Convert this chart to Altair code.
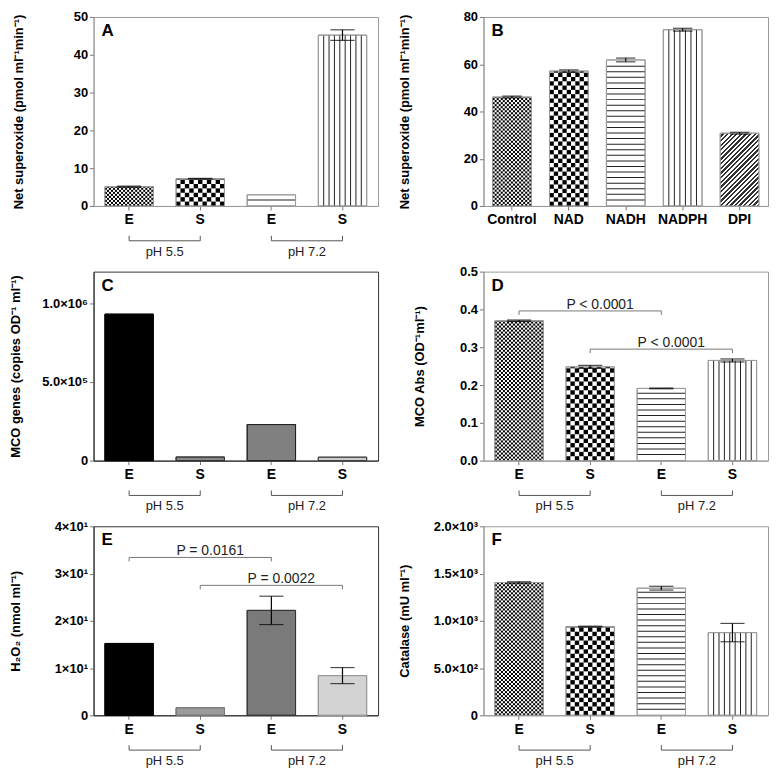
import math
import altair as alt
import pandas as pd

FONT = "Liberation Sans"
W, H = 286, 190
PI, PO = 0.32, 0.16

# ---------------- data ----------------
ph_cats = ["5.5E", "5.5S", "7.2E", "7.2S"]
ph_groups = ["pH 5.5", "pH 7.2"]

A_values = [5.1, 7.2, 2.95, 45.2]
A_errors = [0.15, 0.1, 0.0, 1.4]
A_ticks = [0, 10, 20, 30, 40, 50]
A_ticklabels = ["0", "10", "20", "30", "40", "50"]

B_cats = ["Control", "NAD", "NADH", "NADPH", "DPI"]
B_values = [46.1, 57.1, 61.8, 74.6, 30.8]
B_errors = [0.4, 0.5, 0.8, 0.6, 0.4]
B_ticks = [0, 20, 40, 60, 80]
B_ticklabels = ["0", "20", "40", "60", "80"]

C_values = [930000, 23000, 229000, 22000]
C_errors = [0, 0, 0, 0]
C_ticks = [0, 500000, 1000000]
C_ticklabels = ["0", "5.0×10⁵", "1.0×10⁶"]

D_values = [0.370, 0.248, 0.191, 0.265]
D_errors = [0.002, 0.004, 0.001, 0.004]
D_ticks = [0.0, 0.1, 0.2, 0.3, 0.4, 0.5]
D_ticklabels = ["0.0", "0.1", "0.2", "0.3", "0.4", "0.5"]
D_sig_from = ["5.5E", "5.5S"]
D_sig_to = ["7.2E", "7.2S"]
D_sig_y = [0.396, 0.295]
D_sig_text = ["P < 0.0001", "P < 0.0001"]

E_values = [15.2, 1.6, 22.2, 8.4]
E_errors = [0.0, 0.0, 3.0, 1.7]
E_ticks = [0, 10, 20, 30, 40]
E_ticklabels = ["0", "1×10¹", "2×10¹", "3×10¹", "4×10¹"]
E_sig_from = ["5.5E", "5.5S"]
E_sig_to = ["7.2E", "7.2S"]
E_sig_y = [33.4, 27.5]
E_sig_text = ["P = 0.0161", "P = 0.0022"]

F_values = [1405, 938, 1345, 875]
F_errors = [8, 5, 20, 97]
F_ticks = [0, 500, 1000, 1500, 2000]
F_ticklabels = ["0", "5.0×10²", "1.0×10³", "1.5×10³", "2.0×10³"]

# ---------------- styles ----------------
PAT4 = ["fine", "coarse", "h", "v"]
PAT5 = ["fine", "coarse", "h", "v", "diag"]
C_fills = ["#000000", "#8a8a8a", "#808080", "#cccccc"]
C_edges = ["#000000", "#333333", "#222222", "#444444"]
E_fills = ["#000000", "#9b9b9b", "#7a7a7a", "#d3d3d3"]
E_edges = ["#000000", "#777777", "#333333", "#999999"]


def geom(n):
    step = W / (n - PI + 2 * PO)
    return step, step * (1 - PI)


def label_expr(ticks, labels):
    expr = "''"
    for t, l in reversed(list(zip(ticks, labels))):
        expr = f"abs(datum.value - {t}) < 1e-9 ? '{l}' : ({expr})"
    return expr


def panel(cats, values, errors, ymax, ticks, ticklabels, title, title_x, letter,
          frame, xlab_expr, patterns=None, fills=None, edges=None,
          sig=None, groups=True):
    n = len(cats)
    step, bw = geom(n)
    dpp = ymax / H
    xs = alt.Scale(domain=cats, paddingInner=PI, paddingOuter=PO)
    ys = alt.Scale(domain=[0, ymax], nice=False)
    xax = alt.Axis(labelExpr=xlab_expr, labelFont=FONT, labelFontSize=14,
                   labelFontWeight="bold", labelColor="#000", labelAngle=0,
                   labelPadding=3, tickSize=4, tickColor="#777",
                   domainColor=frame, title=None)
    yax = alt.Axis(values=ticks, labelExpr=label_expr(ticks, ticklabels),
                   labelFont=FONT, labelFontSize=13, labelFontWeight="bold",
                   labelColor="#000", labelPadding=2, tickSize=4,
                   tickColor="#777", domainColor=frame, grid=False,
                   titleFont=FONT, titleFontSize=13, titleFontWeight="bold",
                   titleColor="#000", titleX=title_x)

    def X(field="cat", **kw):
        return alt.X(f"{field}:N", scale=xs, axis=xax, title=None, **kw)

    def Y(field):
        return alt.Y(f"{field}:Q", scale=ys, axis=yax, title=title)

    if patterns is None:
        patterns = ["solid"] * n
    if fills is None:
        fills = ["#ffffff"] * n
    if edges is None:
        edges = ["#9a9a9a"] * n
    df = pd.DataFrame({"cat": cats, "v": values, "err": errors,
                       "fill": fills, "edge": edges, "pat": patterns})
    df["lo"] = df["v"] - df["err"]
    df["hi"] = df["v"] + df["err"]

    layers = [alt.Chart(df).mark_bar(strokeWidth=1).encode(
        x=X(), y=Y("v"), fill=alt.Fill("fill:N", scale=None),
        stroke=alt.Stroke("edge:N", scale=None))]

    # ---- patterns ----
    ncol = {"fine": max(2, round(bw / 2.0)), "coarse": round(bw / 4.3)}
    nv = round(bw / 5.4) - 1
    rows = {"fine": [], "coarse": [], "h": [], "v": []}
    diag = None
    for c, v, p in zip(cats, values, patterns):
        vpx = v / dpp
        if p in ("fine", "coarse"):
            nc = ncol[p]
            cell = bw / nc
            nr = math.ceil(vpx / cell)
            for r in range(nr):
                y0 = r * cell * dpp
                y1 = min((r + 1) * cell * dpp, v)
                for k in range(nc):
                    if (r + k) % 2 == 0:
                        rows[p].append({"cat": c, "col": k, "y0": y0, "y1": y1})
        elif p == "h":
            k = 1
            while k * 5.6 < vpx - 1.5:
                y0 = k * 5.6 * dpp
                rows["h"].append({"cat": c, "y0": y0, "y1": y0 + 1.0 * dpp})
                k += 1
        elif p == "v":
            for i in range(nv):
                rows["v"].append({"cat": c, "col": i, "y0": 0, "y1": v})
        elif p == "diag":
            diag = (c, v, vpx)

    for p in ("fine", "coarse"):
        if rows[p]:
            layers.append(alt.Chart(pd.DataFrame(rows[p])).mark_rect(color="#000").encode(
                x=X(), xOffset=alt.XOffset("col:N", scale=alt.Scale(
                    domain=list(range(ncol[p])), paddingInner=0, paddingOuter=0)),
                y=Y("y0"), y2="y1"))
    if rows["h"]:
        layers.append(alt.Chart(pd.DataFrame(rows["h"])).mark_rect(color="#222").encode(
            x=X(), y=Y("y0"), y2="y1"))
    if rows["v"]:
        layers.append(alt.Chart(pd.DataFrame(rows["v"])).mark_rule(color="#222", strokeWidth=1).encode(
            x=X(), xOffset=alt.XOffset("col:N", scale=alt.Scale(
                domain=list(range(nv)), paddingInner=0, paddingOuter=0.5)),
            y=Y("y0"), y2="y1"))
    if diag is not None:
        c, v, hpx = diag
        r = bw / hpx
        cc = (r + 1) / (r * r + 1)
        L = (bw + hpx) / math.sqrt(2)
        N = int(L / 3.2)
        stops = []
        for k in range(N):
            stops += [alt.GradientStop(offset=k / N, color="#ffffff"),
                      alt.GradientStop(offset=(k + 0.5) / N, color="#ffffff"),
                      alt.GradientStop(offset=(k + 0.5) / N, color="#333333"),
                      alt.GradientStop(offset=(k + 1) / N, color="#333333")]
        grad = alt.LinearGradient(gradient="linear", stops=stops, x1=0, y1=0,
                                  x2=r * cc, y2=cc)
        layers.append(alt.Chart(df[df["cat"] == c]).mark_bar(fill=grad).encode(
            x=X(), y=Y("v")))

    # outline on top
    layers.append(alt.Chart(df).mark_bar(fillOpacity=0, strokeWidth=1).encode(
        x=X(), y=Y("v"), stroke=alt.Stroke("edge:N", scale=None)))

    # ---- error bars ----
    de = df[df["err"] > 0]
    if len(de):
        layers.append(alt.Chart(de).mark_rule(color="#000", strokeWidth=1.2).encode(
            x=X(), y=Y("lo"), y2="hi"))
        for f in ("lo", "hi"):
            layers.append(alt.Chart(de).mark_tick(color="#000", thickness=1.2,
                                                  size=bw * 0.5, orient="horizontal").encode(
                x=X(), y=Y(f)))

    # ---- significance brackets ----
    if sig is not None:
        sfrom, sto, sy, stext = sig
        sd = pd.DataFrame({"a": sfrom, "b": sto, "y": sy, "t": stext,
                           "mid": [cats[cats.index(a) + 1] for a in sfrom]})
        layers.append(alt.Chart(sd).mark_rule(color="#777", strokeWidth=1).encode(
            x=X("a", bandPosition=0.5), x2="b:N", y=Y("y")))
        td = pd.DataFrame({"cat": list(sfrom) + list(sto), "y": list(sy) * 2})
        td["y2"] = td["y"] - 4 * dpp
        layers.append(alt.Chart(td).mark_rule(color="#777", strokeWidth=1).encode(
            x=X(), y=Y("y"), y2="y2"))
        layers.append(alt.Chart(sd).mark_text(font=FONT, fontSize=14, color="#222",
                                              baseline="alphabetic", dy=-2, dx=10).encode(
            x=X("mid"), y=Y("y"), text="t:N"))

    # ---- pH group brackets below axis ----
    if groups:
        gd = pd.DataFrame({"a": [cats[0], cats[2]], "b": [cats[1], cats[3]], "g": ph_groups})
        layers.append(alt.Chart(gd).mark_rule(color="#555", strokeWidth=1).encode(
            x=X("a", bandPosition=0.5), x2="b:N", y=alt.value(H + 35)))
        layers.append(alt.Chart(pd.DataFrame({"cat": cats})).mark_rule(color="#555", strokeWidth=1).encode(
            x=X(), y=alt.value(H + 30), y2=alt.value(H + 35)))
        layers.append(alt.Chart(gd).mark_text(font=FONT, fontSize=13, color="#222",
                                              baseline="middle", dx=step * PI / 2).encode(
            x=X("a", bandPosition=1), y=alt.value(H + 46), text="g:N"))

    layers.append(alt.Chart(pd.DataFrame({"t": [letter]})).mark_text(
        font=FONT, fontSize=17, fontWeight="bold", align="left", baseline="middle",
        color="#000").encode(x=alt.value(8), y=alt.value(14), text="t:N"))

    return alt.layer(*layers).resolve_scale(xOffset="independent").properties(
        width=W, height=H, view=alt.ViewBackground(stroke=frame, strokeWidth=1))


PH_LAB = "substring(datum.label, 3)"
GRAY = "#9a9a9a"
DARK = "#333333"

A = panel(ph_cats, A_values, A_errors, 50, A_ticks, A_ticklabels,
          "Net superoxide (pmol ml⁻¹min⁻¹)", -68, "A", GRAY, PH_LAB, patterns=PAT4)
B = panel(B_cats, B_values, B_errors, 80, B_ticks, B_ticklabels,
          "Net superoxide (pmol ml⁻¹min⁻¹)", -72, "B", GRAY, "datum.label",
          patterns=PAT5, groups=False)
C = panel(ph_cats, C_values, C_errors, 1200000, C_ticks, C_ticklabels,
          "MCO genes (copies OD⁻¹ ml⁻¹)", -71, "C", DARK, PH_LAB,
          fills=C_fills, edges=C_edges)
D = panel(ph_cats, D_values, D_errors, 0.5, D_ticks, D_ticklabels,
          "MCO Abs (OD⁻¹ml⁻¹)", -57, "D", GRAY, PH_LAB, patterns=PAT4,
          sig=(D_sig_from, D_sig_to, D_sig_y, D_sig_text))
E = panel(ph_cats, E_values, E_errors, 40, E_ticks, E_ticklabels,
          "H₂O₂ (nmol ml⁻¹)", -71, "E", DARK, PH_LAB,
          fills=E_fills, edges=E_edges,
          sig=(E_sig_from, E_sig_to, E_sig_y, E_sig_text))
F = panel(ph_cats, F_values, F_errors, 2000, F_ticks, F_ticklabels,
          "Catalase (mU ml⁻¹)", -72, "F", GRAY, PH_LAB, patterns=PAT4)

chart = alt.concat(A, B, C, D, E, F, columns=2, bounds="flush",
                   spacing={"row": 66, "column": 106}).properties(
    padding={"left": 1, "top": 0, "right": 0, "bottom": 0}
).configure(font=FONT)

chart.save("out.html", embed_options={"renderer": "svg", "actions": False})
